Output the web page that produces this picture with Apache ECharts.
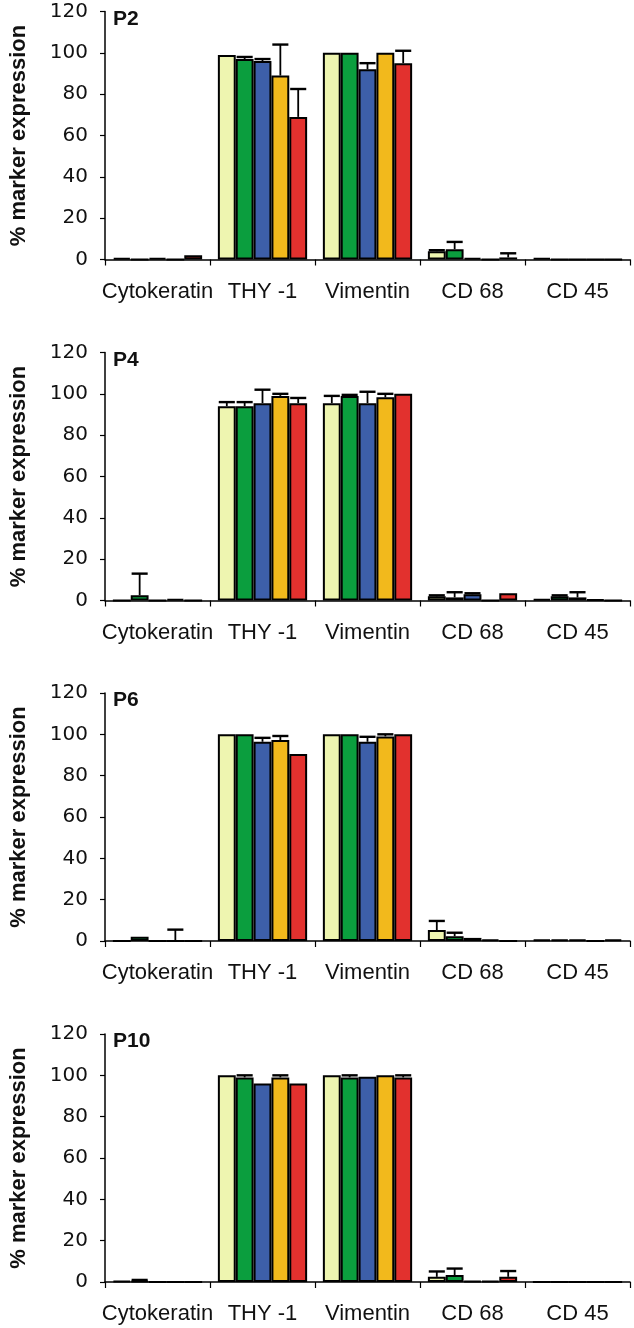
<!DOCTYPE html>
<html>
<head>
<meta charset="utf-8">
<script src="https://cdn.jsdelivr.net/npm/echarts@6/dist/echarts.min.js"></script>
<style>html,body{margin:0;padding:0;background:#fff}#c{width:634px;height:1328px}</style>
</head>
<body>
<div id="c"></div>
<script>
const categories = ['Cytokeratin', 'THY -1', 'Vimentin', 'CD 68', 'CD 45'];
const yTicks = [0, 20, 40, 60, 80, 100, 120];
const panelTitles = ['P2', 'P4', 'P6', 'P10'];
const seriesNames = ['Condition 1', 'Condition 2', 'Condition 3', 'Condition 4', 'Condition 5'];
const seriesColors = ['#eef5b0', '#0b9e3e', '#3d5fa9', '#f2b91c', '#e2312e'];

// mean values [series][category]
const p2Mean = [
  [0.8, 99, 100, 4, 0.7],
  [0, 97, 100, 5, 0],
  [0.8, 96, 92, 0.8, 0],
  [0, 89, 100, 0, 0],
  [2, 69, 95, 1, 0]
];
const p2Err = [
  [0, 0, 0, 0.5, 0],
  [0, 1, 0, 3.5, 0],
  [0, 1, 3, 0, 0],
  [0, 15, 0, 0, 0],
  [0, 13.5, 6, 2, 0]
];
const p4Mean = [
  [0, 94, 95.5, 2, 0.7],
  [2.5, 94, 99, 1.5, 2],
  [0, 95.5, 95.5, 3, 1.5],
  [0.8, 99, 98.3, 0, 0.4],
  [0, 95.5, 100, 3.5, 0]
];
const p4Err = [
  [0, 2, 3.5, 0.5, 0],
  [10.5, 2, 0.5, 2.5, 0.5],
  [0, 6.5, 5.5, 0.5, 2.5],
  [0, 1, 1.7, 0, 0],
  [0, 2.5, 0, 0, 0]
];
const p6Mean = [
  [0, 100, 100, 5.3, 0.7],
  [2, 100, 100, 2.3, 0.7],
  [0, 96.4, 96.4, 1.5, 0.7],
  [0, 97.2, 99, 0.7, 0],
  [0, 90.5, 100, 0, 0.8]
];
const p6Err = [
  [0, 0, 0, 4.4, 0],
  [0, 0, 0, 1.7, 0],
  [0, 1.9, 2.4, 0, 0],
  [5.5, 2, 1, 0, 0],
  [0, 0, 0, 0, 0]
];
const p10Mean = [
  [0.5, 100, 100, 2.5, 0],
  [0.5, 99, 99, 3.4, 0],
  [0, 96, 99.3, 0.5, 0],
  [0, 99, 100, 0.5, 0],
  [0, 96, 99, 2.5, 0]
];
const p10Err = [
  [0, 0, 0, 2.6, 0],
  [0.5, 1, 1, 3.1, 0],
  [0, 0, 0, 0, 0],
  [0, 1, 0, 0, 0],
  [0, 0, 1, 2.8, 0]
];
const panelMeans = [p2Mean, p4Mean, p6Mean, p10Mean];
const panelErrs = [p2Err, p4Err, p6Err, p10Err];

const chart = echarts.init(document.getElementById('c'), null, {renderer: 'canvas'});
const gridTops = [11.5, 352.5, 693, 1034];
const gridH = 248;
const catGap = 0.15;
const NS = seriesNames.length;

const grids = [], xAxes = [], yAxes = [], series = [], titles = [];
gridTops.forEach((top, p) => {
  grids.push({left: 99, width: 531, top: top, height: gridH, containLabel: false});
  xAxes.push({
    type: 'category', gridIndex: p, data: categories,
    axisLine: {lineStyle: {color: '#000', width: 1.5}},
    axisTick: {show: true, length: 6, lineStyle: {color: '#000', width: 1.2}},
    axisLabel: {color: '#111', fontSize: 22, fontFamily: 'Liberation Sans, Arial, sans-serif', margin: 21, interval: 0}
  });
  yAxes.push({
    type: 'value', gridIndex: p, min: yTicks[0], max: yTicks[yTicks.length - 1], interval: yTicks[1] - yTicks[0],
    splitLine: {show: false},
    axisLine: {show: true, lineStyle: {color: '#000', width: 1.5}},
    axisTick: {show: true, length: 5, lineStyle: {color: '#000', width: 1.2}},
    axisLabel: {color: '#111', fontSize: 20, fontFamily: 'DejaVu Sans, sans-serif', margin: 17},
    name: '% marker expression', nameLocation: 'middle', nameGap: 75, nameRotate: 90,
    nameTextStyle: {fontSize: 22, fontWeight: 'bold', color: '#111', fontFamily: 'Liberation Sans, Arial, sans-serif'}
  });
  titles.push({text: panelTitles[p], left: 108, top: top - 8,
    textStyle: {fontSize: 21, fontWeight: 'bold', color: '#111', fontFamily: 'Liberation Sans, Arial, sans-serif'}});
  const means = panelMeans[p], errs = panelErrs[p];
  for (let s = 0; s < NS; s++) {
    series.push({
      type: 'bar', name: seriesNames[s], xAxisIndex: p, yAxisIndex: p,
      data: means[s], barGap: '0%', barCategoryGap: (catGap * 100) + '%',
      itemStyle: {color: seriesColors[s], borderColor: '#000', borderWidth: 2},
      silent: true, z: 2
    });
  }
  const errData = [];
  for (let s = 0; s < NS; s++) {
    for (let c = 0; c < categories.length; c++) {
      if (errs[s][c] > 0) errData.push([c, s, means[s][c], errs[s][c]]);
    }
  }
  series.push({
    type: 'custom', xAxisIndex: p, yAxisIndex: p, z: 3, silent: true,
    encode: {x: 0, y: 2},
    data: errData,
    renderItem: function (params, api) {
      const c = api.value(0), s = api.value(1), m = api.value(2), e = api.value(3);
      const band = api.size([1, 0])[0];
      const used = band * (1 - catGap);
      const bw = used / NS;
      const cx = api.coord([c, 0])[0] - used / 2 + (s + 0.5) * bw;
      const y0 = api.coord([c, m])[1];
      const y1 = api.coord([c, m + e])[1];
      const half = bw * 0.45;
      return {
        type: 'group',
        children: [
          {type: 'line', shape: {x1: cx, y1: y0, x2: cx, y2: y1}, style: {stroke: '#000', lineWidth: 1.8}},
          {type: 'line', shape: {x1: cx - half, y1: y1, x2: cx + half, y2: y1}, style: {stroke: '#000', lineWidth: 2.4}}
        ]
      };
    }
  });
});

chart.setOption({
  animation: false,
  backgroundColor: '#fff',
  title: titles,
  grid: grids,
  xAxis: xAxes,
  yAxis: yAxes,
  series: series
});
</script>
</body>
</html>
